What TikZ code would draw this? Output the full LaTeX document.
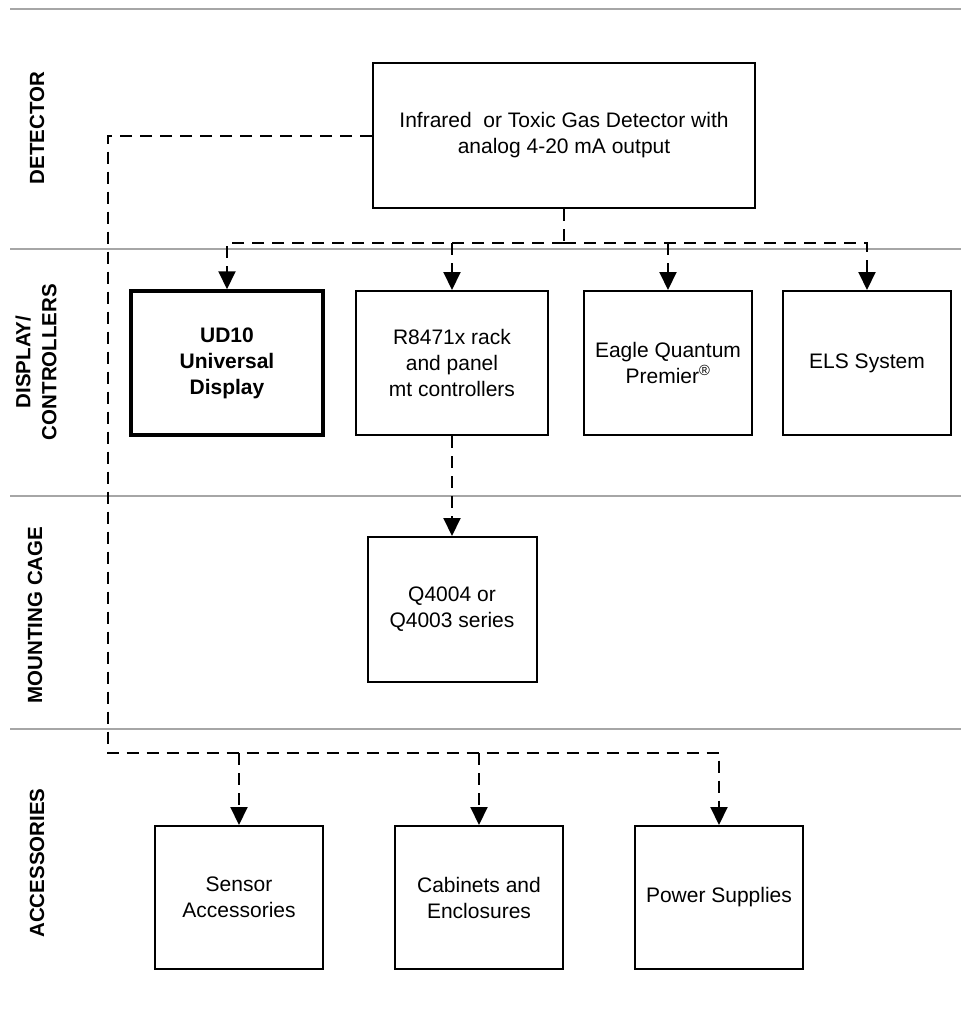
\documentclass[tikz,border=0pt]{standalone}
\usepackage{fontspec}
\setmainfont{Liberation Sans}
\usetikzlibrary{arrows.meta}
\begin{document}
\begin{tikzpicture}[x=1pt, y=-1pt,
    box/.style={draw, line width=2pt, inner sep=0pt, align=center, font=\fontsize{21}{26}\selectfont},
    conn/.style={line width=2pt, dash pattern=on 12pt off 8pt},
    tip/.style={-{Triangle[length=18pt, width=17pt]}},
    band/.style={line width=2pt, black!35},
    lbl/.style={rotate=90, align=center, font=\fontsize{20.5}{26}\selectfont\bfseries}]
    \useasboundingbox (0, 0) rectangle (961, 1013);

    \draw[band] (10, 9) -- (961, 9);
    \draw[band] (10, 249) -- (961, 249);
    \draw[band] (10, 496) -- (961, 496);
    \draw[band] (10, 729) -- (961, 729);

    \node[lbl] (ldet) at (37, 128) {DETECTOR};
    \node[lbl] (ldisp) at (36, 362) {DISPLAY/\\CONTROLLERS};
    \node[lbl] (lcage) at (35, 615) {MOUNTING CAGE};
    \node[lbl] (lacc) at (37, 863) {ACCESSORIES};

    \node[box, minimum width=382, minimum height=145] (det) at (564, 135.5) {Infrared\ \ or Toxic Gas Detector with\\analog 4-20 mA output};

    \node[box, line width=3.5pt, minimum width=192, minimum height=144, font=\fontsize{21}{26}\selectfont\bfseries] (ud) at (227, 363) {UD10\\Universal\\Display};
    \node[box, minimum width=192, minimum height=144] (rack) at (452, 363) {R8471x rack\\and panel\\mt controllers};
    \node[box, minimum width=168, minimum height=144] (eqp) at (668, 363) {Eagle Quantum\\Premier\textsuperscript{®}};
    \node[box, minimum width=168, minimum height=144] (els) at (867, 363) {ELS System};

    \node[box, minimum width=169, minimum height=145] (cage) at (452, 609.5) {Q4004 or\\Q4003 series};

    \node[box, minimum width=168, minimum height=143] (sensor) at (239, 897.5) {Sensor\\Accessories};
    \node[box, minimum width=168, minimum height=143] (cab) at (479, 897.5) {Cabinets and\\Enclosures};
    \node[box, minimum width=168, minimum height=143] (psu) at (719, 897.5) {Power Supplies};

    \coordinate (tbus) at (564, 243);
    \coordinate (abus) at (108, 753);

    \draw[conn] (det) -- (tbus);
    \draw[conn, tip] (tbus) -| (ud);
    \draw[conn, tip] (tbus) -| (els);
    \draw[conn, tip] (tbus -| rack) -- (rack);
    \draw[conn, tip] (tbus -| eqp) -- (eqp);

    \draw[conn, tip] (rack) -- (cage);

    \draw[conn, tip] (det.west) -| (abus) -| (psu);
    \draw[conn, tip] (abus -| sensor) -- (sensor);
    \draw[conn, tip] (abus -| cab) -- (cab);
\end{tikzpicture}
\end{document}
